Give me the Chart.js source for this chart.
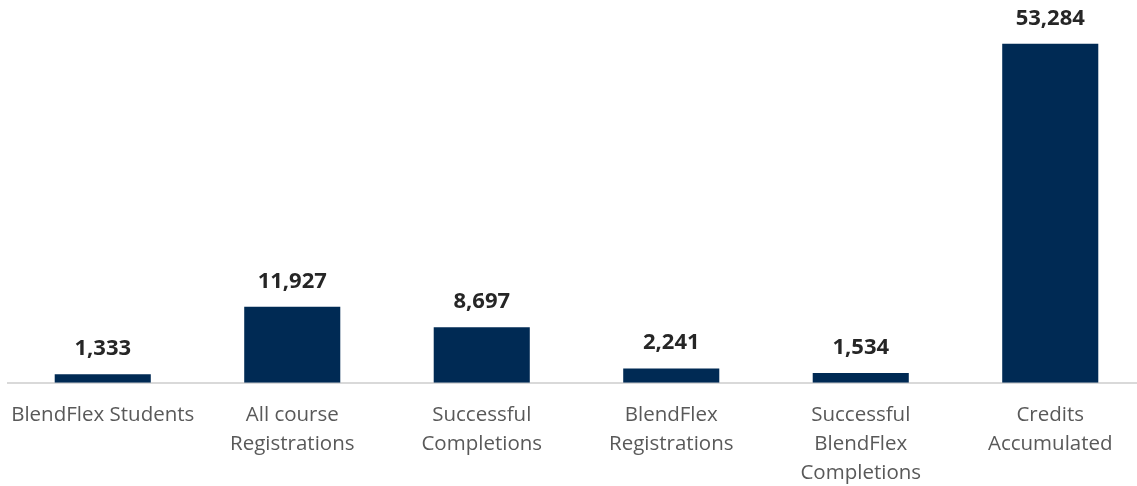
<!DOCTYPE html>
<html>
<head>
<meta charset="utf-8">
<script src="https://cdn.jsdelivr.net/npm/chart.js@4"></script>
<style>
  html, body { margin: 0; padding: 0; background: #fff; overflow: hidden; }
  #wrap { width: 1145px; height: 486px; position: relative; }
</style>
</head>
<body>
<div id="wrap"><canvas id="chart"></canvas></div>
<script>
const categories = [
  'BlendFlex Students',
  ['All course', 'Registrations'],
  ['Successful', 'Completions'],
  ['BlendFlex', 'Registrations'],
  ['Successful', 'BlendFlex', 'Completions'],
  ['Credits', 'Accumulated']
];
const values = [1333, 11927, 8697, 2241, 1534, 53284];

const FONT = "'Open Sans', 'Noto Sans', sans-serif";

// ─── Value labels above bars ───────────────────────────────
const valueLabels = {
  id: 'valueLabels',
  afterDatasetsDraw(chart) {
    const ctx = chart.ctx;
    const meta = chart.getDatasetMeta(0);
    ctx.save();
    ctx.font = `bold 22px ${FONT}`;
    ctx.fillStyle = '#262626';
    ctx.textAlign = 'center';
    ctx.textBaseline = 'alphabetic';
    meta.data.forEach((bar, i) => {
      ctx.fillText(values[i].toLocaleString('en-US'), bar.x, bar.y - 19);
    });
    ctx.restore();
  }
};

new Chart(document.getElementById('chart'), {
  type: 'bar',
  data: {
    labels: categories,
    datasets: [{
      data: values,
      backgroundColor: '#002a54',
      categoryPercentage: 1,
      barPercentage: 0.507
    }]
  },
  options: {
    responsive: true,
    maintainAspectRatio: false,
    animation: false,
    layout: { padding: { left: 8, right: 0, top: 1, bottom: -12 } },
    plugins: { legend: { display: false }, tooltip: { enabled: false } },
    scales: {
      x: {
        grid: { display: false },
        border: { display: true, color: '#d9d9d9', width: 2 },
        ticks: {
          color: '#595959',
          font: { family: FONT, size: 20.5, lineHeight: 1.42 },
          padding: 10,
          maxRotation: 0,
          autoSkip: false
        }
      },
      y: {
        display: false,
        min: 0,
        max: 60000
      }
    }
  },
  plugins: [valueLabels]
});
</script>
</body>
</html>
